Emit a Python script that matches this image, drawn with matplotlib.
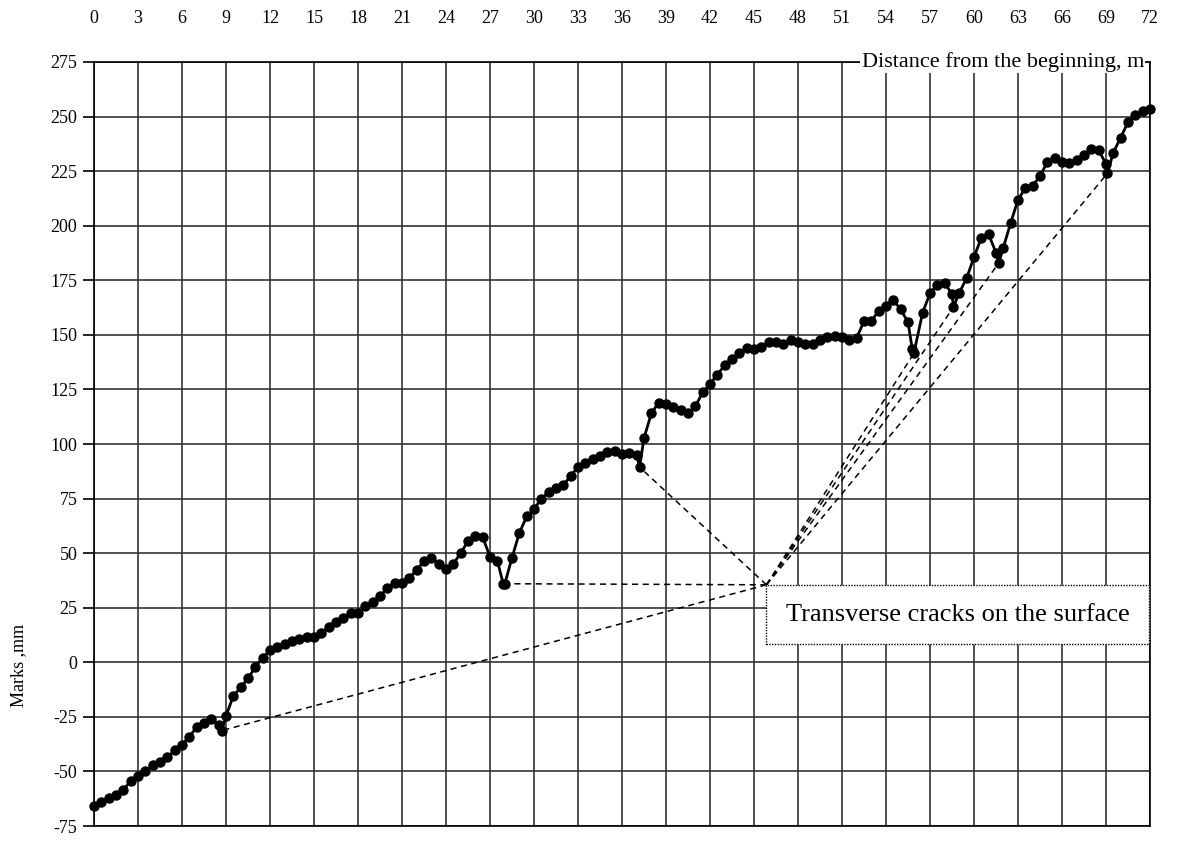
import numpy as np
import matplotlib
matplotlib.use("Agg")
from matplotlib import pyplot as plt
from matplotlib.patches import Rectangle

# distance from the beginning (m) and surface marks (mm)
dist = [0, 0.5, 1, 1.5, 2, 2.5, 3, 3.5, 4, 4.5, 5, 5.5, 6, 6.5, 7, 7.5, 8, 8.5, 8.7, 9,
        9.5, 10, 10.5, 11, 11.5, 12, 12.5, 13, 13.5, 14, 14.5, 15, 15.5, 16, 16.5, 17, 17.5, 18,
        18.5, 19, 19.5, 20, 20.5, 21, 21.5, 22, 22.5, 23, 23.5, 24, 24.5, 25, 25.5, 26, 26.5,
        27, 27.5, 27.9, 28, 28.5, 29, 29.5, 30, 30.5, 31, 31.5, 32, 32.5, 33, 33.5, 34, 34.5,
        35, 35.5, 36, 36.5, 37, 37.2, 37.5, 38, 38.5, 39, 39.5, 40, 40.5, 41, 41.5, 42, 42.5,
        43, 43.5, 44, 44.5, 45, 45.5, 46, 46.5, 47, 47.5, 48, 48.5, 49, 49.5, 50, 50.5, 51,
        51.5, 52, 52.5, 53, 53.5, 54, 54.5, 55, 55.5, 55.8, 55.9, 56.5, 57, 57.5, 58, 58.5,
        58.6, 59, 59.5, 60, 60.5, 61, 61.5, 61.7, 62, 62.5, 63, 63.5, 64, 64.5, 65, 65.5, 66,
        66.5, 67, 67.5, 68, 68.5, 69, 69.1, 69.5, 70, 70.5, 71, 71.5, 72]
marks = [-66, -64, -62, -61, -58.5, -54.3, -52, -49.7, -47.2, -45.7, -43.6, -40.2, -37.8, -34,
         -29.8, -27.7, -26.1, -28.6, -31.3, -24.6,
         -15.4, -11.5, -7.4, -2.1, 2.1, 5.5, 7, 8.2, 9.7, 10.6, 11.8, 11.5, 13.6, 16, 18.3, 20.3,
         22.4, 22.4, 25.9, 27.5, 30.2, 34.1, 36.5, 36.5, 38.8, 42.1, 46.5, 48, 45, 42.6, 45,
         50.1, 55.4, 58, 57.4, 48.3, 46.6, 36, 35.7, 47.9, 59.2, 66.8, 70.1, 75, 77.9, 80,
         81.2, 85.3, 89.5, 91.3, 93, 94.7, 96.3, 96.9, 95.5, 95.9, 94.9, 89.4, 102.7, 114, 119,
         118.5, 116.8, 115.6, 114, 117.3, 123.6, 127.4, 131.8, 136, 138.8, 141.5, 144, 143.6,
         144.5, 146.5, 146.9, 145.9, 147.6, 146.6, 145.8, 145.8, 147.5, 149, 149.7, 149,
         147.8, 148.6, 156.2, 156.2, 161.1, 163.4, 165.9, 161.7, 155.8, 143.3, 141.5, 160.2,
         169, 173, 173.6, 168.8, 162.7, 169.3, 176, 185.5, 194.5, 196, 187.7, 183, 190, 201.2,
         211.8, 217.3, 218.3, 222.6, 229.2, 231.2, 229.2, 228.6, 230.1, 232.3, 235, 234.7,
         228.2, 224, 233.5, 240.3, 247.4, 250.5, 252.4, 253.5]

# crack locations (m) linked to the note
cracks = [8.7, 27.9, 37.2, 55.9, 58.6, 61.7, 69.1]
note_x, note_y = 45.85, 35.5
note_bottom = 8.2
note_text = 'Transverse cracks on the surface'

plt.rcParams['font.family'] = ['Liberation Serif', 'DejaVu Serif']
plt.rcParams['axes.unicode_minus'] = False

fig = plt.figure(figsize=(11.78, 8.41), dpi=100)
ax = fig.add_axes([0.0798, 0.0178, 0.8964, 0.9085])

ax.set_xlim(0, 72)
ax.set_ylim(-75, 275)
ax.set_xticks(np.arange(0, 73, 3))
ax.set_yticks(np.arange(-75, 276, 25))
ax.xaxis.tick_top()
ax.tick_params(axis='x', length=0, pad=25, labelsize=13)
ax.tick_params(axis='y', length=8, width=1.2, labelsize=13, pad=4)
ax.grid(True, color='#333333', linewidth=1.2)
ax.set_axisbelow(True)
for s in ax.spines.values():
    s.set_linewidth(1.2)

ax.set_ylabel('Marks ,mm', fontsize=13)
ax.yaxis.set_label_coords(-0.063, 0.21)

# dashed lines from the note corner to each crack
for cx in cracks:
    cy = marks[dist.index(cx)]
    ax.plot([note_x, cx], [note_y, cy], color='black', linestyle=(0, (4, 3)),
            linewidth=1.1, zorder=3)

ax.plot(dist, marks, color='black', linewidth=2, marker='o', markersize=6.5, zorder=4,
        clip_on=False)

box = Rectangle((note_x, note_bottom), 72 - note_x - 0.05, note_y - note_bottom,
                facecolor='white', edgecolor='black', linestyle=(0, (1, 1)),
                linewidth=1.0, zorder=5)
ax.add_patch(box)
ax.text((note_x + 72) / 2, (note_y + note_bottom) / 2, note_text,
        ha='center', va='center', fontsize=19, zorder=6)

ax.text(71.6, 275, 'Distance from the beginning, m', ha='right', va='center',
        fontsize=16, zorder=6,
        bbox=dict(facecolor='white', edgecolor='none', pad=1))

fig.savefig('out.png', dpi=100)
